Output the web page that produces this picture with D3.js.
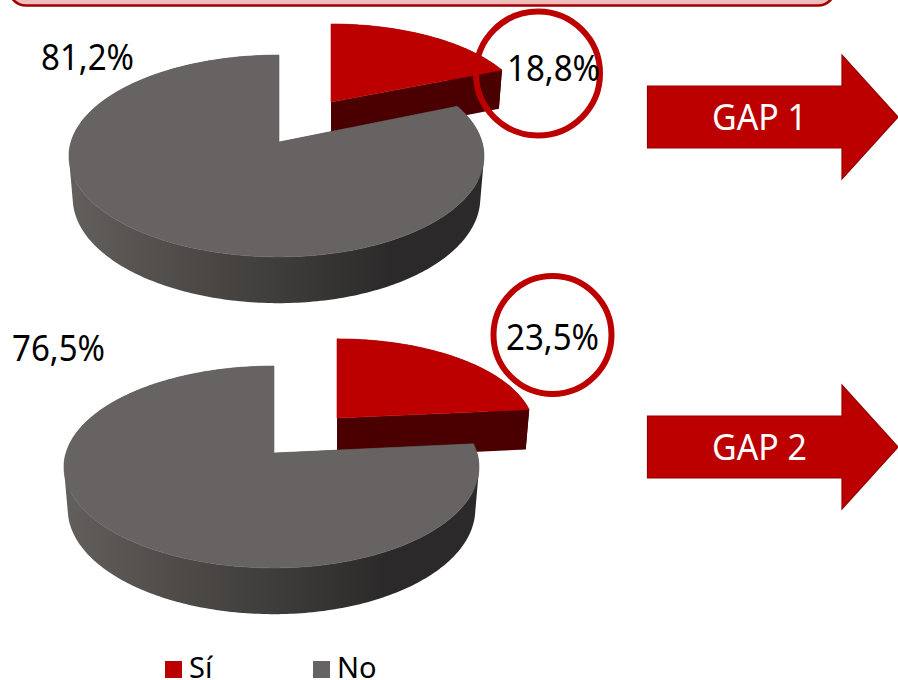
<!DOCTYPE html>
<html>
<head>
<meta charset="utf-8">
<script src="https://cdn.jsdelivr.net/npm/d3@7"></script>
<style>
  html, body { margin: 0; padding: 0; background: #fff; overflow: hidden; }
  text { font-family: "Noto Sans", sans-serif; }
</style>
</head>
<body>
<div class="chart"></div>
<script>
var categories = ["Sí", "No"];
var gap1Values = [18.8, 81.2];
var gap2Values = [23.5, 76.5];
var gap1Labels = ["18,8%", "81,2%"];
var gap2Labels = ["23,5%", "76,5%"];
var gapNames = ["GAP 1", "GAP 2"];

var svgWidth = 898;
var svgHeight = 680;

var red = "#bc0000";
var color = d3.scaleOrdinal().domain(categories).range([red, "#666362"]);

// edge shading of the grey slice, left to right across the disc
var shadeStops = [[0, "#625f5d"], [0.3, "#4c4947"], [0.55, "#3c3a38"], [0.78, "#2b2929"], [1, "#2b2929"]];

var svg = d3.select(".chart")
  .append("svg")
  .attr("width", svgWidth)
  .attr("height", svgHeight)
  .style("display", "block");

var defs = svg.append("defs");

// banner cut off by the top of the page
svg.append("rect")
  .attr("x", 9)
  .attr("y", -40)
  .attr("width", 826)
  .attr("height", 45.5)
  .attr("rx", 17)
  .attr("fill", "#f0bcbc")
  .attr("stroke", "#a00000")
  .attr("stroke-width", 2.5);

// disc seen in perspective: u across, v towards the viewer, z down the edge
var depth = 99;
var persp = 0.1386;
var thick = 41.6;

function project(pie, u, v, z, off) {
  var vv = v + off.dv;
  var s = 1 / (1 - persp * vv);
  var shrink = 1 - 0.018 * z;
  // the picture's disc is not quite centred on the wedge point
  var radius = off.dx ? 205.5 : (u < 0 ? 208 : 203);
  return [
    pie.cx + off.dx + radius * u * s * shrink,
    pie.cy + depth * vv * s * shrink + thick * z * s
  ];
}

var line = d3.line();

function drawPie(pie, values, idx) {
  var slices = d3.pie().sort(null).value(d => d)(values);
  var g = svg.append("g");

  slices.forEach(function(d, i) {
    var name = categories[i];
    var off = i === 0 ? pie.explode : { dx: 0, dv: 0 };
    var n = Math.ceil((d.endAngle - d.startAngle) * 60);
    var angles = d3.range(n + 1).map(k => d.startAngle + (d.endAngle - d.startAngle) * k / n);

    var rim = z => angles.map(a => project(pie, Math.sin(a), -Math.cos(a), z, off));
    var apex = z => project(pie, 0, 0, z, off);

    var top = rim(0);
    var bottom = rim(1);

    var edgeFill = "#4a0000";
    if (i === 1) {
      var xRange = d3.extent(top, p => p[0]);
      var gradId = "greySide" + idx;
      defs.append("linearGradient")
        .attr("id", gradId)
        .attr("gradientUnits", "userSpaceOnUse")
        .attr("x1", xRange[0])
        .attr("x2", xRange[1])
        .attr("y1", 0)
        .attr("y2", 0)
        .selectAll("stop")
        .data(shadeStops)
        .enter()
        .append("stop")
        .attr("offset", s => s[0])
        .attr("stop-color", s => s[1]);
      edgeFill = "url(#" + gradId + ")";
    }

    // cut faces first, they sit behind the rim and the top
    [0, n].forEach(function(k) {
      g.append("path")
        .attr("d", line([apex(0), top[k], bottom[k], apex(1)]) + "Z")
        .attr("fill", edgeFill);
    });

    // rim: all strips in one path, same winding, so no seams and a straight silhouette
    var strips = d3.range(n).map(function(k) {
      var quad = [top[k], top[k + 1], bottom[k + 1], bottom[k]];
      if (d3.polygonArea(quad) < 0) quad.reverse();
      return line(quad) + "Z";
    });
    g.append("path")
      .attr("d", strips.join(""))
      .attr("fill", edgeFill);

    g.append("path")
      .attr("d", line([apex(0)].concat(top)) + "Z")
      .attr("fill", color(name))
      .attr("stroke", color(name))
      .attr("stroke-width", 0.6);
  });
}

var pies = [
  { cx: 279, cy: 142, explode: { dx: 52, dv: -0.428 }, values: gap1Values, labels: gap1Labels,
    labelX: [507, 41], labelY: [81, 70], ring: [538, 73.5, 62], arrowY: 0 },
  { cx: 274, cy: 453, explode: { dx: 63, dv: -0.372 }, values: gap2Values, labels: gap2Labels,
    labelX: [506, 12], labelY: [350, 361], ring: [552.5, 335, 59], arrowY: 330 }
];

pies.forEach(function(pie, idx) {
  drawPie(pie, pie.values, idx);

  svg.append("circle")
    .attr("cx", pie.ring[0])
    .attr("cy", pie.ring[1])
    .attr("r", pie.ring[2])
    .attr("fill", "none")
    .attr("stroke", red)
    .attr("stroke-width", 6);

  pie.labels.forEach(function(t, i) {
    svg.append("text")
      .attr("x", pie.labelX[i])
      .attr("y", pie.labelY[i])
      .attr("font-size", 36)
      .attr("textLength", 93)
      .attr("lengthAdjust", "spacingAndGlyphs")
      .attr("fill", "#000")
      .text(t);
  });

  // arrow
  var dy = pie.arrowY;
  svg.append("path")
    .attr("d", line([[647.5, 86 + dy], [842, 86 + dy], [842, 55 + dy], [898, 117 + dy],
      [842, 179 + dy], [842, 148 + dy], [647.5, 148 + dy]]) + "Z")
    .attr("fill", red)
    .attr("stroke", "#960000")
    .attr("stroke-width", 1.2);

  svg.append("text")
    .attr("x", 712)
    .attr("y", 130 + dy)
    .attr("font-size", 36)
    .attr("textLength", 95)
    .attr("lengthAdjust", "spacingAndGlyphs")
    .attr("fill", "#fff")
    .text(gapNames[idx]);
});

// legend
var legendX = [165, 313];
categories.forEach(function(name, i) {
  svg.append("rect")
    .attr("x", legendX[i])
    .attr("y", 661)
    .attr("width", 17)
    .attr("height", 17)
    .attr("fill", color(name));

  svg.append("text")
    .attr("x", legendX[i] + 24)
    .attr("y", 678)
    .attr("font-size", 29)
    .attr("fill", "#000")
    .text(name);
});
</script>
</body>
</html>
